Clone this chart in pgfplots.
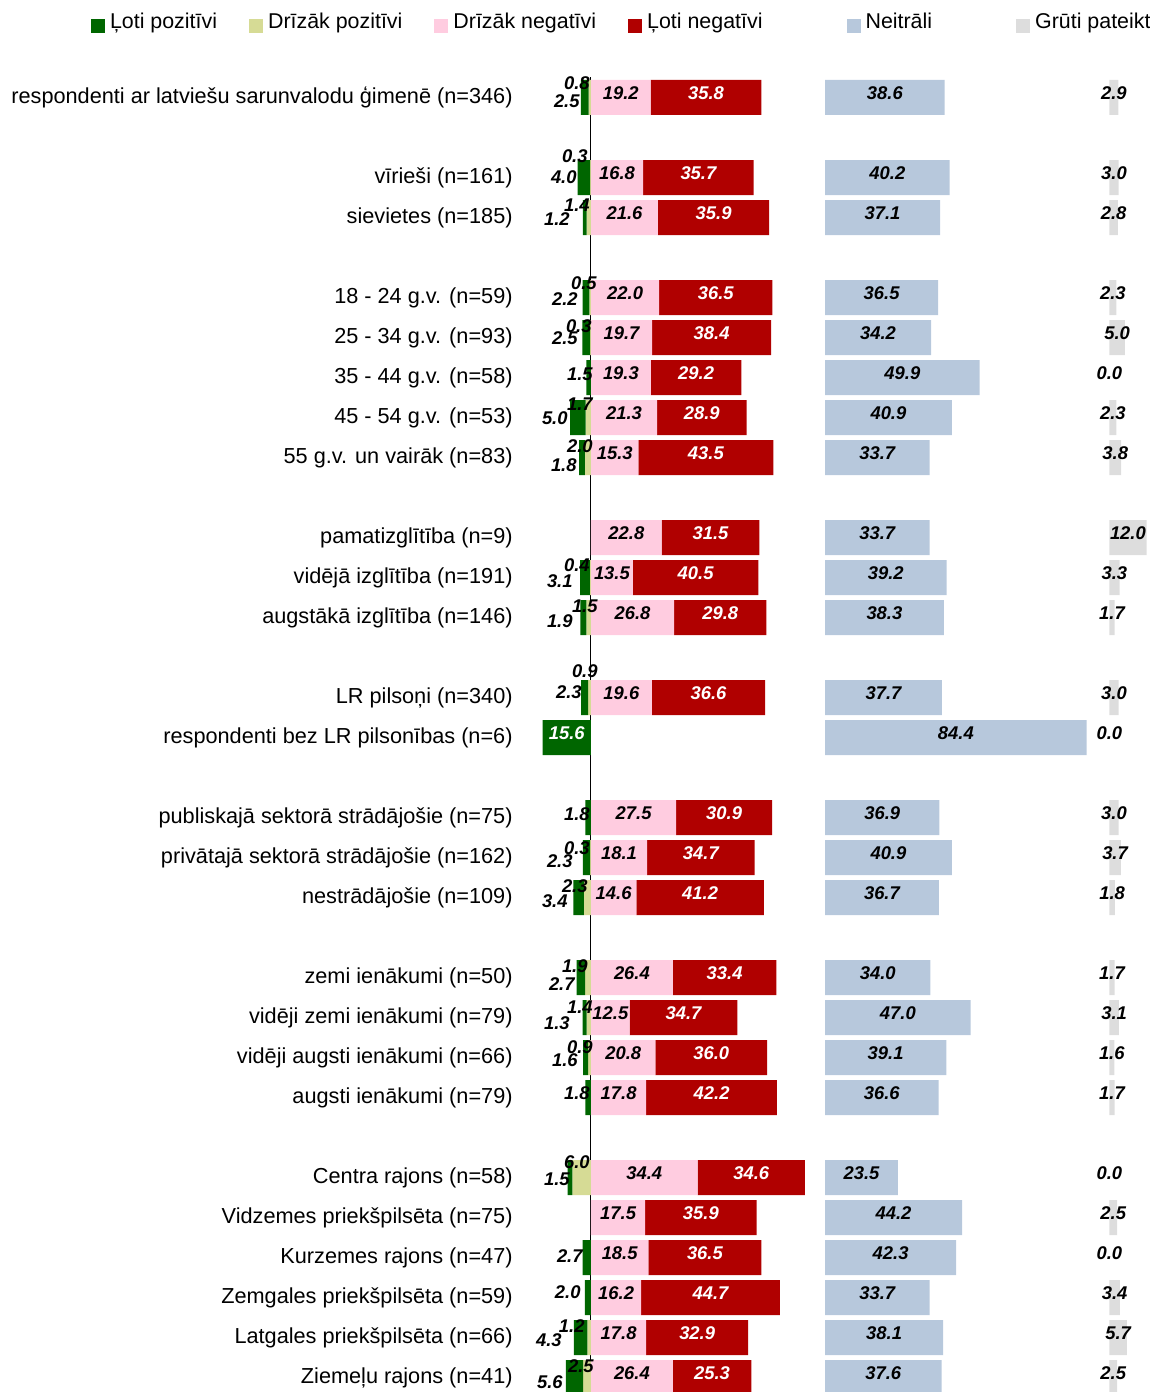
\documentclass[border=0pt]{standalone}
\usepackage{pgfplots}
\pgfplotsset{compat=1.18}
\usepackage{pgfplotstable}
\usepackage{fontspec}
\setmainfont{Liberation Sans}
\definecolor{cDk}{HTML}{006600}
\definecolor{cLt}{HTML}{D6DB95}
\definecolor{cPk}{HTML}{FFCCE0}
\definecolor{cRd}{HTML}{B00000}
\definecolor{cNt}{HTML}{B7C8DC}
\definecolor{cHd}{HTML}{DDDDDD}

\pgfplotstableread{
row dk lt pk rd nt hd
0 2.5 0.8 19.2 35.8 38.6 2.9
2 4.0 0.3 16.8 35.7 40.2 3.0
3 1.2 1.4 21.6 35.9 37.1 2.8
5 2.2 0.5 22.0 36.5 36.5 2.3
6 2.5 0.3 19.7 38.4 34.2 5.0
7 1.5 0 19.3 29.2 49.9 0.0
8 5.0 1.7 21.3 28.9 40.9 2.3
9 1.8 2.0 15.3 43.5 33.7 3.8
11 0 0 22.8 31.5 33.7 12.0
12 3.1 0.4 13.5 40.5 39.2 3.3
13 1.9 1.5 26.8 29.8 38.3 1.7
15 2.3 0.9 19.6 36.6 37.7 3.0
16 15.6 0 0 0 84.4 0.0
18 1.8 0 27.5 30.9 36.9 3.0
19 2.3 0.3 18.1 34.7 40.9 3.7
20 3.4 2.3 14.6 41.2 36.7 1.8
22 2.7 1.9 26.4 33.4 34.0 1.7
23 1.3 1.4 12.5 34.7 47.0 3.1
24 1.6 0.9 20.8 36.0 39.1 1.6
25 1.8 0 17.8 42.2 36.6 1.7
27 1.5 6.0 34.4 34.6 23.5 0.0
28 0 0 17.5 35.9 44.2 2.5
29 2.7 0 18.5 36.5 42.3 0.0
30 2.0 0 16.2 44.7 33.7 3.4
31 4.3 1.2 17.8 32.9 38.1 5.7
32 5.6 2.5 26.4 25.3 37.6 2.5
}\data

% labels of the positive side: right edge (x, relative to the zero line), vertical position (y), text
\pgfplotstableread{
x y v
-0.32 -0.35 0.8
-3.55 0.0875 2.5
-0.97 1.4625 0.3
-4.52 1.9875 4.0
-0.32 2.6875 1.4
-6.77 3.0375 1.2
1.94 4.6375 0.5
-4.19 5.0375 2.2
0.32 5.7125 0.3
-4.19 6.0125 2.5
0.65 6.9125 1.5
0.65 7.6625 1.7
-7.42 8.025 5.0
0.65 8.7125 2.0
-4.52 9.1875 1.8
-0.32 11.6875 0.4
-5.81 12.0875 3.1
2.26 12.7125 1.5
-5.81 13.0875 1.9
2.26 14.3375 0.9
-2.9 14.8625 2.3
-0.32 17.9125 1.8
-0.32 18.7625 0.3
-5.81 19.0875 2.3
-0.97 19.7125 2.3
-7.42 20.0875 3.4
-0.97 21.7125 1.9
-5.16 22.1625 2.7
0.65 22.7375 1.4
-6.77 23.1375 1.3
0.65 23.7375 0.9
-4.19 24.0625 1.6
-0.32 24.8875 1.8
-0.32 26.6125 6.0
-6.77 27.0375 1.5
-2.58 28.9625 2.7
-3.23 29.8625 2.0
-1.94 30.7125 1.2
-9.35 31.0625 4.3
0.97 31.7125 2.5
-9.03 32.1125 5.6
}\poslabels

% zero line of the diverging bars sits at x = 30 on the axis
\pgfplotsset{
  base/.style={
    anchor=origin, at={(260pt,647.25pt)},
    x=1.55pt, y=20pt, y dir=reverse,
    xmin=7.1, xmax=210, ymin=-0.5, ymax=32.5,
    clip=false,
    axis line style={draw=none},
    xtick=\empty,
    major tick length=0pt,
  },
  lbl/.style={draw=none, mark=none, forget plot,
    nodes near coords={\pgfplotspointmeta},
    point meta=explicit symbolic,
    every node near coord/.style={font=\fontsize{9.2}{10}\selectfont\bfseries\itshape,
      inner sep=0pt, text=#1, anchor=center, yshift=2pt}},
}

\begin{document}
\begin{tikzpicture}
\useasboundingbox (0,0) rectangle (575pt,696pt);
\begin{axis}[base,
  xbar stacked, bar width=17.5pt,
  ytick={0,2,3,5,6,7,8,9,11,12,13,15,16,18,19,20,22,23,24,25,27,28,29,30,31,32},
  yticklabels={respondenti ar latviešu sarunvalodu ģimenē (n=346),
    vīrieši (n=161), sievietes (n=185),
    18 - 24 g.v. (n=59), 25 - 34 g.v. (n=93), 35 - 44 g.v. (n=58),
    45 - 54 g.v. (n=53), 55 g.v. un vairāk (n=83),
    pamatizglītība (n=9), vidējā izglītība (n=191), augstākā izglītība (n=146),
    LR pilsoņi (n=340), respondenti bez LR pilsonības (n=6),
    publiskajā sektorā strādājošie (n=75), privātajā sektorā strādājošie (n=162),
    nestrādājošie (n=109),
    zemi ienākumi (n=50), vidēji zemi ienākumi (n=79),
    vidēji augsti ienākumi (n=66), augsti ienākumi (n=79),
    Centra rajons (n=58), Vidzemes priekšpilsēta (n=75), Kurzemes rajons (n=47),
    Zemgales priekšpilsēta (n=59), Latgales priekšpilsēta (n=66), Ziemeļu rajons (n=41)},
  yticklabel style={font=\fontsize{10.85}{12}\selectfont, inner sep=0pt, anchor=east, xshift=-3.5pt},
  ytick style={draw=none},
]
\addplot[draw=none, fill=none] table[x expr={30-\thisrow{dk}-\thisrow{lt}}, y=row]{\data};
\addplot[fill=cDk, draw=none] table[x=dk, y=row]{\data};
\addplot[fill=cLt, draw=none] table[x=lt, y=row]{\data};
\addplot[fill=cPk, draw=none] table[x=pk, y=row]{\data};
\addplot[fill=cRd, draw=none] table[x=rd, y=row]{\data};
\addplot[draw=none, fill=none] table[x expr={75.5-\thisrow{pk}-\thisrow{rd}}, y=row]{\data};
\addplot[fill=cNt, draw=none] table[x=nt, y=row]{\data};
\addplot[draw=none, fill=none] table[x expr={167.2-75.5-\thisrow{nt}}, y=row]{\data};
\addplot[fill=cHd, draw=none] table[x=hd, y=row]{\data};
\draw[black, line width=0.5pt] (axis cs:30,-0.5) -- (axis cs:30,32.5);
\end{axis}

\begin{axis}[base, ytick=\empty,
  legend columns=6,
  legend cell align=left,
  legend image code/.code={\fill[#1] (0pt,-5pt) rectangle (7pt,2pt);},
  legend style={draw=none, fill=none, inner sep=0pt, outer sep=0pt,
    at={(-0.682,1.0413)}, anchor=west,
    font=\fontsize{10.7}{12}\selectfont,
    nodes={inner sep=0pt},
    /tikz/every odd column/.append style={column sep=2.5pt},
    /tikz/every even column/.append style={column sep=16pt}},
]
\addlegendimage{fill=cDk, draw=none}
\addlegendimage{fill=cLt, draw=none}
\addlegendimage{fill=cPk, draw=none}
\addlegendimage{fill=cRd, draw=none}
\addlegendimage{fill=cNt, draw=none}
\addlegendimage{fill=cHd, draw=none}
\legend{Ļoti pozitīvi, Drīzāk pozitīvi, Drīzāk negatīvi, Ļoti negatīvi\hspace*{26pt}, Neitrāli\hspace*{26pt}, Grūti pateikt}

\addplot[lbl=black, skip coords between index={12}{13}] table[x expr={30+\thisrow{pk}/2}, y=row, meta=pk]{\data};
\addplot[lbl=white, skip coords between index={12}{13}] table[x expr={30+\thisrow{pk}+\thisrow{rd}/2}, y=row, meta=rd]{\data};
\addplot[lbl=black] table[x expr={30+75.5+\thisrow{nt}/2}, y=row, meta=nt]{\data};
\addplot[lbl=black] table[x expr={30+167.2+\thisrow{hd}/2}, y=row, meta=hd]{\data};
\addplot[lbl=black, every node near coord/.append style={anchor=east, yshift=-2pt}] table[x expr={30+\thisrow{x}}, y=y, meta=v]{\poslabels};
\addplot[lbl=white] coordinates {(22.2,16) [15.6]};
\end{axis}
\end{tikzpicture}
\end{document}
